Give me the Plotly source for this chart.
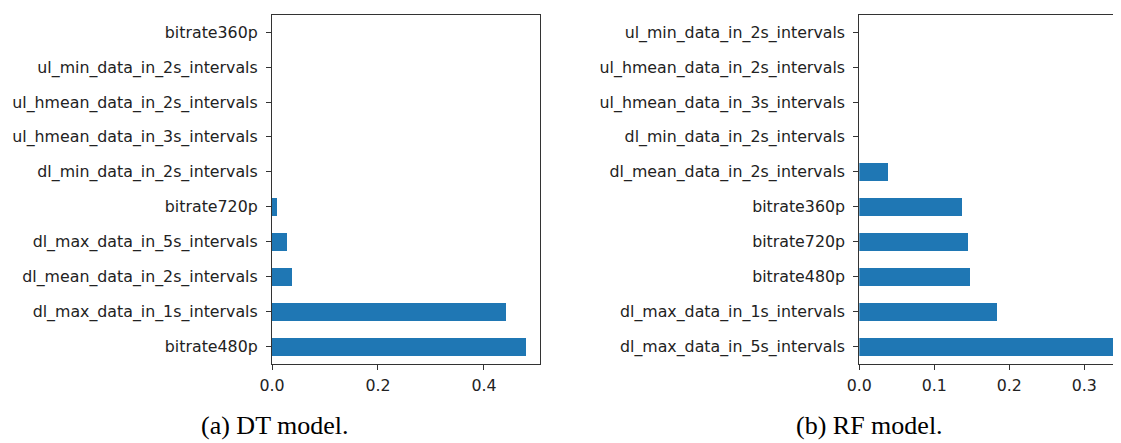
import plotly.graph_objects as go

# DT model feature importances (bottom to top)
dt_features = [
    "bitrate480p",
    "dl_max_data_in_1s_intervals",
    "dl_mean_data_in_2s_intervals",
    "dl_max_data_in_5s_intervals",
    "bitrate720p",
    "dl_min_data_in_2s_intervals",
    "ul_hmean_data_in_3s_intervals",
    "ul_hmean_data_in_2s_intervals",
    "ul_min_data_in_2s_intervals",
    "bitrate360p",
]
dt_values = [0.479, 0.442, 0.038, 0.029, 0.010, 0.0, 0.0, 0.0, 0.0, 0.0]

# RF model feature importances (bottom to top)
rf_features = [
    "dl_max_data_in_5s_intervals",
    "dl_max_data_in_1s_intervals",
    "bitrate480p",
    "bitrate720p",
    "bitrate360p",
    "dl_mean_data_in_2s_intervals",
    "dl_min_data_in_2s_intervals",
    "ul_hmean_data_in_3s_intervals",
    "ul_hmean_data_in_2s_intervals",
    "ul_min_data_in_2s_intervals",
]
rf_values = [0.338, 0.184, 0.1476, 0.1454, 0.137, 0.0387, 0.0, 0.0, 0.0, 0.0]

dt_ticks = [0.0, 0.2, 0.4]
rf_ticks = [0.0, 0.1, 0.2, 0.3]
captions = ["(a) DT model.", "(b) RF model."]

# page body has an 8px margin, so the figure sits at (8, 8) in the window
OFF = 8
W, H = 1121 - OFF, 443 - OFF
BLUE = "#1f77b4"
TICKFONT = dict(family="DejaVu Sans", size=15.8, color="#222")


def px_x(x):
    return (x - OFF) / W


def px_y(y):
    return 1 - (y - OFF) / H


fig = go.Figure()
fig.add_trace(go.Bar(x=dt_values, y=dt_features, orientation="h", width=0.5,
                     marker=dict(color=BLUE, line=dict(width=0)),
                     xaxis="x", yaxis="y", showlegend=False))
fig.add_trace(go.Bar(x=rf_values, y=rf_features, orientation="h", width=0.5,
                     marker=dict(color=BLUE, line=dict(width=0)),
                     xaxis="x2", yaxis="y2", showlegend=False))

axis_common = dict(showgrid=False, zeroline=False, showline=True, linecolor="#333",
                   linewidth=1.2, ticks="outside", ticklen=5, tickwidth=1,
                   tickcolor="#333", tickfont=TICKFONT, automargin=False)

fig.update_layout(
    width=W, height=H,
    margin=dict(l=0, r=0, t=0, b=0),
    plot_bgcolor="white", paper_bgcolor="white",
    bargap=0,
    xaxis=dict(axis_common, domain=[px_x(272), px_x(540)], range=[0, 0.5057],
               tickvals=dt_ticks, tickformat=".1f", mirror=True, anchor="y",
               ticklabelstandoff=2),
    yaxis=dict(axis_common, domain=[px_y(364), px_y(14.7)], range=[-0.5, 9.5],
               mirror=True, anchor="x", type="category", ticklabelstandoff=5),
    xaxis2=dict(axis_common, domain=[px_x(859.3), 1.0], range=[0, (1121 - 859.3) / 750],
                tickvals=rf_ticks, tickformat=".1f", mirror=True, anchor="y2",
                ticklabelstandoff=2),
    yaxis2=dict(axis_common, domain=[px_y(364), px_y(14.7)], range=[-0.5, 9.5],
                anchor="x2", type="category", ticklabelstandoff=5),
)

for text, xc in zip(captions, [275, 869]):
    fig.add_annotation(text=text, x=px_x(xc), y=px_y(425), xref="paper", yref="paper",
                       showarrow=False, xanchor="center", yanchor="middle",
                       font=dict(family="Liberation Serif", size=26, color="black"))

fig.write_html("out.html")
